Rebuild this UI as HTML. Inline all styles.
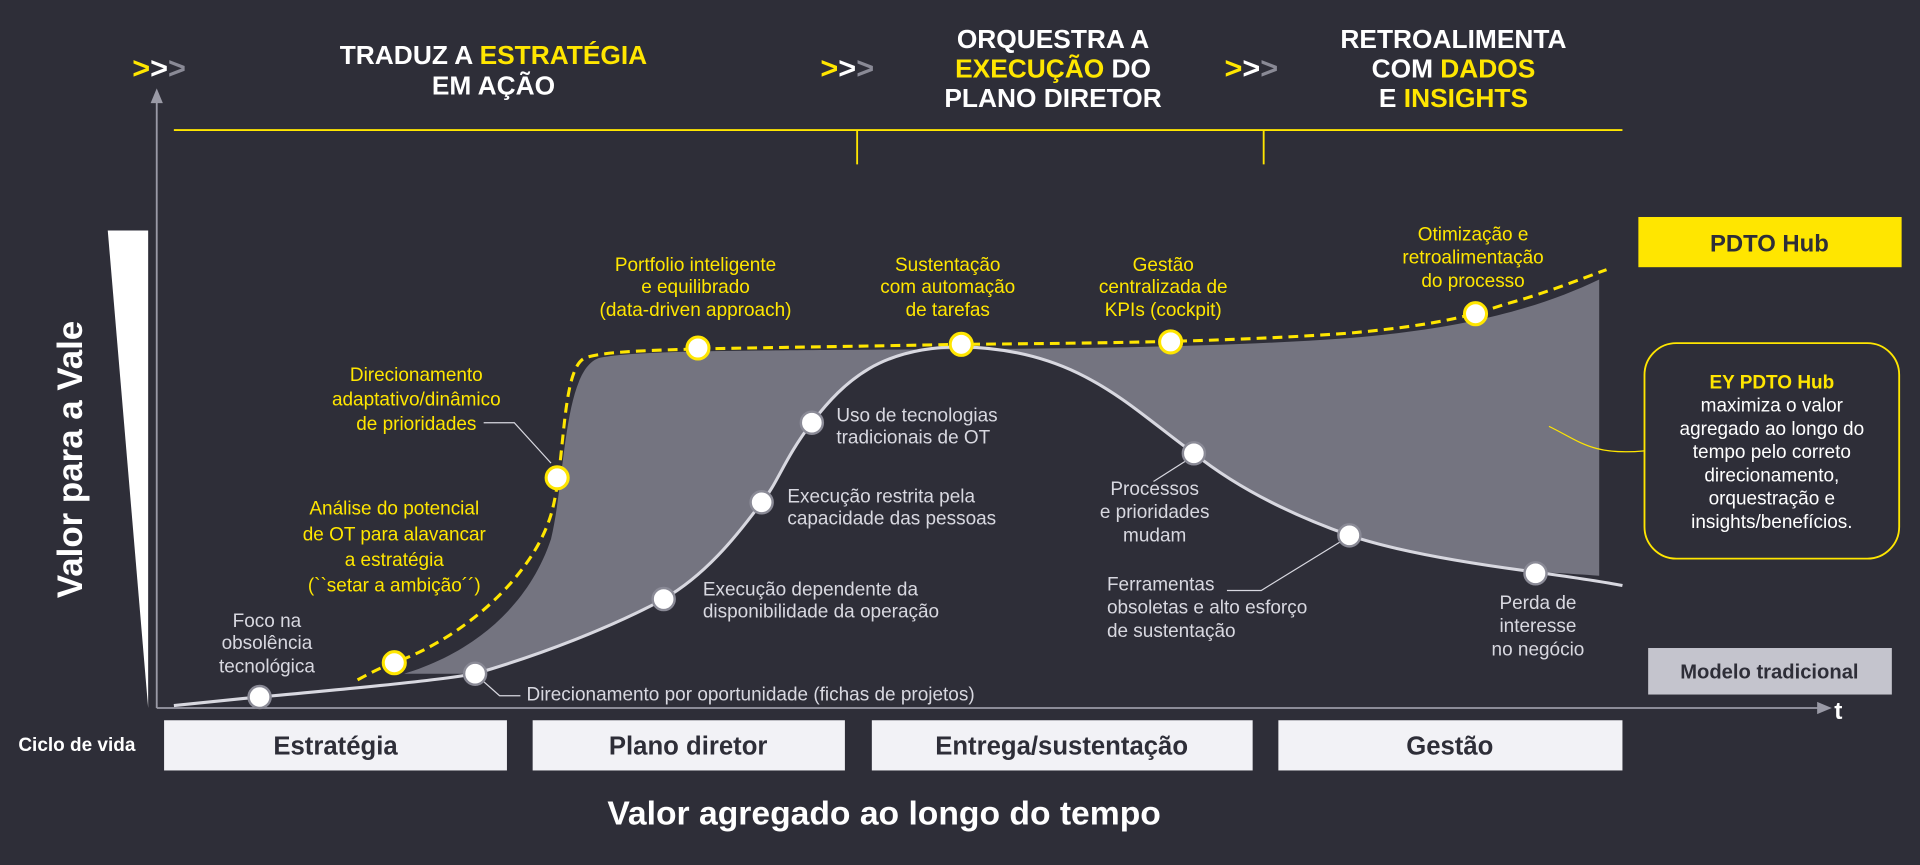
<!DOCTYPE html>
<html><head><meta charset="utf-8"><style>
html,body{margin:0;padding:0;background:#2e2e38;}
svg{display:block;font-family:"Liberation Sans",sans-serif;}
</style></head><body>
<svg width="1920" height="865" viewBox="0 0 1568 706" xmlns="http://www.w3.org/2000/svg">
<rect width="1568" height="706" fill="#2e2e38"/>
<!-- header -->
<g font-weight="bold" font-size="21.5" fill="#fff" text-anchor="middle">
<g font-size="25">
<text x="108" y="64" fill="#ffe600" text-anchor="start">&gt;<tspan fill="#fff">&gt;</tspan><tspan fill="#8a8a96">&gt;</tspan></text>
<text x="670" y="64" fill="#ffe600" text-anchor="start">&gt;<tspan fill="#fff">&gt;</tspan><tspan fill="#8a8a96">&gt;</tspan></text>
<text x="1000" y="64" fill="#ffe600" text-anchor="start">&gt;<tspan fill="#fff">&gt;</tspan><tspan fill="#8a8a96">&gt;</tspan></text>
</g>
<text x="403" y="52">TRADUZ A <tspan fill="#ffe600">ESTRATÉGIA</tspan></text>
<text x="403" y="77">EM AÇÃO</text>
<text x="860" y="39">ORQUESTRA A</text>
<text x="860" y="63"><tspan fill="#ffe600">EXECUÇÃO</tspan> DO</text>
<text x="860" y="87">PLANO DIRETOR</text>
<text x="1187" y="39">RETROALIMENTA</text>
<text x="1187" y="63">COM <tspan fill="#ffe600">DADOS</tspan></text>
<text x="1187" y="87">E <tspan fill="#ffe600">INSIGHTS</tspan></text>
</g>
<g stroke="#ffe600" stroke-width="1.5" fill="none">
<path d="M142 106H1325M700 106V134M1032 106V134"/>
</g>
<!-- axes -->
<g stroke="#9a9aa6" stroke-width="1.5" fill="none">
<path d="M128 578V78M128 578H1490"/>
</g>
<path d="M123 84L128 72L133 84Z" fill="#9a9aa6"/>
<path d="M1484 573L1496 578L1484 583Z" fill="#9a9aa6"/>
<text x="1498" y="587" font-size="20" font-weight="bold" fill="#fff">t</text>
<path d="M88 188H121V578Z" fill="#fff"/>
<text transform="translate(67 375) rotate(-90)" text-anchor="middle" font-size="28.5" font-weight="bold" fill="#fff">Valor para a Vale</text>
<!-- filled area -->
<path d="M330 550 C380 535 430 500 450 440 C462 390 460 300 490 292 C520 286 600 286 785 285 C900 284 1000 283 1100 276 C1200 268 1260 250 1306 228 L1306 470 C1280 468 1260 467 1254 467 C1200 460 1140 450 1102 437 C1040 415 1000 390 975 370 C920 330 880 285 785 283 C720 283 690 310 663 345 C640 375 635 395 622 410 C600 440 575 470 542 489 C500 512 440 535 388 550 Z" fill="#747480"/>
<!-- lower curve -->
<path d="M142 576 C170 573 190 571 212 569 C300 561 360 555 388 550 C440 535 500 512 542 489 C575 470 600 440 622 410 C635 395 640 375 663 345 C690 310 720 283 785 283 C880 285 920 330 975 370 C1000 390 1040 415 1102 437 C1140 450 1200 460 1254 467 C1290 472 1310 475 1325 478" stroke="#d8d8e0" stroke-width="2.5" fill="none"/>
<!-- dashed top -->
<path d="M292 555 C305 548 315 543 322 541 C380 520 435 470 450 420 C462 380 458 300 478 292 C500 284 580 285 785 281 C900 280 1000 279 1100 272 C1180 265 1205 256 1230 248 C1260 240 1290 228 1312 220" stroke="#ffe600" stroke-width="2.5" stroke-dasharray="8 5" fill="none"/>
<!-- leaders -->
<g stroke="#d8d8e0" stroke-width="1" fill="none">
<path d="M395 345H420L450 378"/>
<path d="M390 552L408 568H425"/>
<path d="M975 372L942 393"/>
<path d="M1002 482H1030L1095 442"/>
<path d="M1265 348C1290 360 1300 372 1343 368" stroke="#ffe600"/>
</g>
<!-- dots -->
<g fill="#fff" stroke="#ffe600" stroke-width="2.5">
<circle cx="322" cy="541" r="9"/><circle cx="455" cy="390" r="9"/><circle cx="570" cy="284" r="9"/>
<circle cx="785" cy="281" r="9"/><circle cx="956" cy="279" r="9"/><circle cx="1205" cy="256" r="9"/>
</g>
<g fill="#fff" stroke="#8a8a96" stroke-width="2">
<circle cx="212" cy="569" r="9"/><circle cx="388" cy="550" r="9"/><circle cx="542" cy="489" r="9"/>
<circle cx="622" cy="410" r="9"/><circle cx="663" cy="345" r="9"/><circle cx="975" cy="370" r="9"/>
<circle cx="1102" cy="437" r="9"/><circle cx="1254" cy="468" r="9"/>
</g>
<!-- yellow labels -->
<g font-size="15.5" fill="#ffe600" text-anchor="middle">
<text x="322" y="420">Análise do potencial</text><text x="322" y="441">de OT para alavancar</text><text x="322" y="462">a estratégia</text><text x="322" y="483">(``setar a ambição´´)</text>
<text x="340" y="311">Direcionamento</text><text x="340" y="331">adaptativo/dinâmico</text><text x="340" y="351">de prioridades</text>
<text x="568" y="221">Portfolio inteligente</text><text x="568" y="239">e equilibrado</text><text x="568" y="258">(data-driven approach)</text>
<text x="774" y="221">Sustentação</text><text x="774" y="239">com automação</text><text x="774" y="258">de tarefas</text>
<text x="950" y="221">Gestão</text><text x="950" y="239">centralizada de</text><text x="950" y="258">KPIs (cockpit)</text>
<text x="1203" y="196">Otimização e</text><text x="1203" y="215">retroalimentação</text><text x="1203" y="234">do processo</text>
</g>
<!-- white labels -->
<g font-size="15.5" fill="#d8d8e0">
<g text-anchor="middle">
<text x="218" y="512">Foco na</text><text x="218" y="530">obsolência</text><text x="218" y="549">tecnológica</text>
<text x="943" y="404">Processos</text><text x="943" y="423">e prioridades</text><text x="943" y="442">mudam</text>
<text x="1256" y="497">Perda de</text><text x="1256" y="516">interesse</text><text x="1256" y="535">no negócio</text>
</g>
<text x="430" y="572">Direcionamento por oportunidade (fichas de projetos)</text>
<text x="574" y="486">Execução dependente da</text><text x="574" y="504">disponibilidade da operação</text>
<text x="643" y="410">Execução restrita pela</text><text x="643" y="428">capacidade das pessoas</text>
<text x="683" y="344">Uso de tecnologias</text><text x="683" y="362">tradicionais de OT</text>
<text x="904" y="482">Ferramentas</text><text x="904" y="501">obsoletas e alto esforço</text><text x="904" y="520">de sustentação</text>
</g>
<!-- right boxes -->
<rect x="1338" y="177" width="215" height="41" fill="#ffe600"/>
<text x="1445" y="205" text-anchor="middle" font-size="19.5" font-weight="bold" fill="#2e2e38">PDTO Hub</text>
<rect x="1343" y="280" width="208" height="176" rx="26" fill="#2e2e38" stroke="#ffe600" stroke-width="1.5"/>
<g font-size="15.5" fill="#fff" text-anchor="middle">
<text x="1447" y="317" fill="#ffe600" font-weight="bold">EY PDTO Hub</text>
<text x="1447" y="336">maximiza o valor</text><text x="1447" y="355">agregado ao longo do</text><text x="1447" y="374">tempo pelo correto</text>
<text x="1447" y="393">direcionamento,</text><text x="1447" y="412">orquestração e</text><text x="1447" y="431">insights/benefícios.</text>
</g>
<rect x="1346" y="529" width="199" height="38" fill="#c4c4cd"/>
<text x="1445" y="554" text-anchor="middle" font-size="16.5" font-weight="bold" fill="#2e2e38">Modelo tradicional</text>
<!-- bottom -->
<text x="15" y="613" font-size="15.5" font-weight="bold" fill="#fff">Ciclo de vida</text>
<g fill="#f2f2f6">
<rect x="134" y="588" width="280" height="41"/><rect x="435" y="588" width="255" height="41"/>
<rect x="712" y="588" width="311" height="41"/><rect x="1044" y="588" width="281" height="41"/>
</g>
<g font-size="21" font-weight="bold" fill="#2e2e38" text-anchor="middle">
<text x="274" y="616">Estratégia</text><text x="562" y="616">Plano diretor</text>
<text x="867" y="616">Entrega/sustentação</text><text x="1184" y="616">Gestão</text>
</g>
<text x="722" y="673" text-anchor="middle" font-size="27.5" font-weight="bold" fill="#fff">Valor agregado ao longo do tempo</text>
</svg>
</body></html>
